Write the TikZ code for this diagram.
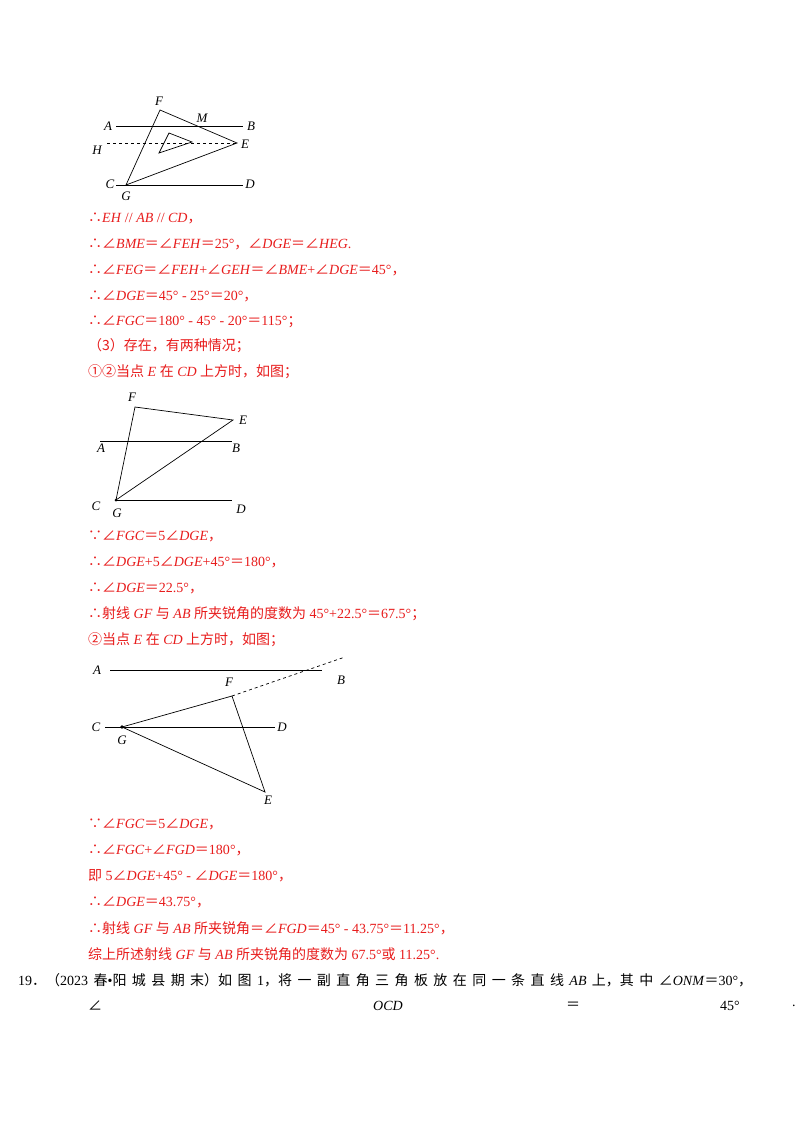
\documentclass[tikz,border=0pt]{standalone}
\usepackage{fontspec}
\setmainfont{Liberation Serif}
\newfontfamily\cjk{Noto Sans CJK SC}
\definecolor{ans}{RGB}{232,28,28}
\newcommand{\ag}{{\cjk ∠}}
\newcommand{\tf}{{\cjk ∴}}
\newcommand{\bc}{{\cjk ∵}}
\newcommand{\zh}[1]{{\cjk #1}}
\begin{document}
\begin{tikzpicture}[x=1pt,y=-1pt,
  lbl/.style={font=\fontsize{13}{15}\selectfont\itshape,inner sep=0pt},
  txt/.style={anchor=west,inner sep=0pt,font=\fontsize{14}{16}\selectfont,text=ans},
  btxt/.style={anchor=west,inner sep=0pt,font=\fontsize{14}{16}\selectfont},
  ln/.style={line width=0.7pt}]
\useasboundingbox[fill=white] (0,0) rectangle (800,1132);
% Figure 1
\coordinate (F1) at (160,110); \coordinate (E1) at (237,143); \coordinate (G1) at (126,185);
\draw[ln] (116,126) -- (243,126);
\draw[ln] (116,185) -- (243,185);
\draw[ln,dashed] (107,143) -- (E1);
\draw[ln] (F1) -- (E1) -- (G1) -- cycle;
\draw[ln] (169,133) -- (192,142) -- (159,153) -- cycle;
\node[lbl] at (159,101) {F}; \node[lbl] at (202,118) {M};
\node[lbl] at (108,126) {A}; \node[lbl] at (251,126) {B};
\node[lbl] at (97,150) {H}; \node[lbl] at (245,144) {E};
\node[lbl] at (110,184) {C}; \node[lbl] at (126,196) {G};
\node[lbl] at (250,184) {D};
% text block 1
\node[txt] at (88,218) {\tf\textit{EH} // \textit{AB} // \textit{CD}\zh{，}};
\node[txt] at (88,244) {\tf\ag\textit{BME}\zh{＝}\ag\textit{FEH}\zh{＝}25°\zh{，}\ag\textit{DGE}\zh{＝}\ag\textit{HEG}.};
\node[txt] at (88,270) {\tf\ag\textit{FEG}\zh{＝}\ag\textit{FEH}+\ag\textit{GEH}\zh{＝}\ag\textit{BME}+\ag\textit{DGE}\zh{＝}45°\zh{，}};
\node[txt] at (88,296) {\tf\ag\textit{DGE}\zh{＝}45° - 25°\zh{＝}20°\zh{，}};
\node[txt] at (88,322) {\tf\ag\textit{FGC}\zh{＝}180° - 45° - 20°\zh{＝}115°\zh{；}};
\node[txt] at (88,346) {\zh{（3）存在，有两种情况；}};
\node[txt] at (88,372) {\zh{①②当点} \textit{E} \zh{在} \textit{CD} \zh{上方时，如图；}};
% Figure 2
\coordinate (F2) at (135,407); \coordinate (E2) at (233,420); \coordinate (G2) at (116,500);
\draw[ln] (100,441) -- (232,441);
\draw[ln] (116,500) -- (232,500);
\draw[ln] (F2) -- (E2) -- (G2) -- cycle;
\fill (G2) circle (1.5);
\node[lbl] at (132,397) {F}; \node[lbl] at (243,420) {E};
\node[lbl] at (101,448) {A}; \node[lbl] at (236,448) {B};
\node[lbl] at (96,506) {C}; \node[lbl] at (117,513) {G};
\node[lbl] at (241,509) {D};
% text block 2
\node[txt] at (88,536) {\bc\ag\textit{FGC}\zh{＝}5\ag\textit{DGE}\zh{，}};
\node[txt] at (88,562) {\tf\ag\textit{DGE}+5\ag\textit{DGE}+45°\zh{＝}180°\zh{，}};
\node[txt] at (88,588) {\tf\ag\textit{DGE}\zh{＝}22.5°\zh{，}};
\node[txt] at (88,614) {\tf\zh{射线} \textit{GF} \zh{与} \textit{AB} \zh{所夹锐角的度数为} 45°+22.5°\zh{＝}67.5°\zh{；}};
\node[txt] at (88,640) {\zh{②当点} \textit{E} \zh{在} \textit{CD} \zh{上方时，如图；}};
% Figure 3
\coordinate (G3) at (122,727); \coordinate (F3) at (232,696); \coordinate (E3) at (265,792);
\coordinate (R3) at (345,657);
\draw[ln] (110,670) -- (322,670);
\draw[ln] (105,727) -- (275,727);
\draw[ln] (G3) -- (F3) -- (E3) -- cycle;
\draw[ln,dashed] (F3) -- (R3);
\fill (G3) circle (1.8);
\node[lbl] at (97,670) {A}; \node[lbl] at (341,680) {B};
\node[lbl] at (229,682) {F}; \node[lbl] at (96,727) {C};
\node[lbl] at (122,740) {G}; \node[lbl] at (282,727) {D};
\node[lbl] at (268,800) {E};
% text block 3
\node[txt] at (88,824) {\bc\ag\textit{FGC}\zh{＝}5\ag\textit{DGE}\zh{，}};
\node[txt] at (88,850) {\tf\ag\textit{FGC}+\ag\textit{FGD}\zh{＝}180°\zh{，}};
\node[txt] at (88,876) {\zh{即} 5\ag\textit{DGE}+45° - \ag\textit{DGE}\zh{＝}180°\zh{，}};
\node[txt] at (88,902) {\tf\ag\textit{DGE}\zh{＝}43.75°\zh{，}};
\node[txt] at (88,928) {\tf\zh{射线} \textit{GF} \zh{与} \textit{AB} \zh{所夹锐角＝}\ag\textit{FGD}\zh{＝}45° - 43.75°\zh{＝}11.25°\zh{，}};
\node[txt] at (88,954) {\zh{综上所述射线} \textit{GF} \zh{与} \textit{AB} \zh{所夹锐角的度数为} 67.5°\zh{或} 11.25°.};
% question 19
\node[btxt] at (18,980) {\makebox[734pt][s]{19\zh{．（}2023 \zh{春}•\zh{阳} \zh{城} \zh{县} \zh{期} \zh{末）如} \zh{图} 1\zh{，将} \zh{一} \zh{副} \zh{直} \zh{角} \zh{三} \zh{角} \zh{板} \zh{放} \zh{在} \zh{同} \zh{一} \zh{条} \zh{直} \zh{线} \textit{AB} \zh{上，其} \zh{中} \ag\textit{ONM}\zh{＝}30°\zh{，}}};
\node[btxt] at (88,1006) {\ag};
\node[btxt] at (373,1006) {\textit{OCD}};
\node[btxt] at (566,1006) {\zh{＝}};
\node[btxt] at (720,1006) {45°};
\node[btxt] at (792,1006) {.};
\end{tikzpicture}
\end{document}
